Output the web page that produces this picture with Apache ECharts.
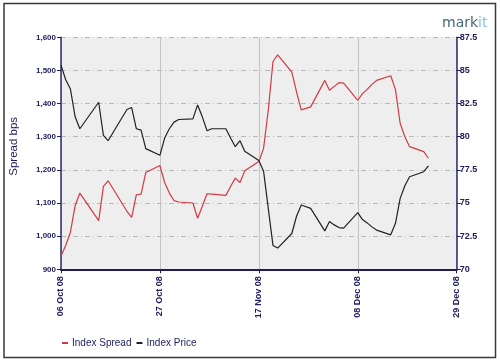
<!DOCTYPE html>
<html>
<head>
<meta charset="utf-8">
<script src="https://cdn.jsdelivr.net/npm/echarts@6/dist/echarts.min.js"></script>
<style>
html,body{margin:0;padding:0;background:#fff;}
#chart{width:500px;height:361px;}
</style>
</head>
<body>
<div id="chart"></div>
<script>
// ---- data ----
var dates = [
 '2008-10-06','2008-10-07','2008-10-08','2008-10-09','2008-10-10',
 '2008-10-14','2008-10-15','2008-10-16','2008-10-20','2008-10-21',
 '2008-10-22','2008-10-23','2008-10-24','2008-10-27','2008-10-28',
 '2008-10-29','2008-10-30','2008-10-31','2008-11-03','2008-11-04',
 '2008-11-05','2008-11-06','2008-11-07','2008-11-10','2008-11-11',
 '2008-11-12','2008-11-13','2008-11-14','2008-11-17','2008-11-18',
 '2008-11-19','2008-11-20','2008-11-21','2008-11-24','2008-11-25',
 '2008-11-26','2008-11-28','2008-12-01','2008-12-02','2008-12-03',
 '2008-12-04','2008-12-05','2008-12-08','2008-12-09','2008-12-10',
 '2008-12-11','2008-12-12','2008-12-15','2008-12-16','2008-12-17',
 '2008-12-18','2008-12-19','2008-12-22','2008-12-23'
];
var indexSpread = [
 940, 972, 1012, 1092, 1130,
 1047, 1150, 1167, 1075, 1057,
 1125, 1127, 1192, 1213, 1162,
 1130, 1107, 1103, 1100, 1054,
 1090, 1128, 1127, 1123, 1150,
 1175, 1162, 1197, 1225, 1265,
 1380, 1527, 1547, 1495, 1435,
 1381, 1390, 1470, 1440, 1452,
 1463, 1462, 1410, 1430, 1443,
 1458, 1470, 1484, 1442, 1340,
 1300, 1270, 1255, 1235
];
var indexPrice = [
 85.4, 84.3, 83.6, 81.5, 80.6,
 82.6, 80.1, 79.7, 82.05, 82.2,
 80.6, 80.5, 79.1, 78.6, 79.9,
 80.6, 81.1, 81.3, 81.35, 82.4,
 81.5, 80.45, 80.6, 80.6, 79.9,
 79.25, 79.7, 78.9, 78.2, 77.4,
 74.6, 71.8, 71.6, 72.7, 74.0,
 74.85, 74.6, 72.9, 73.6, 73.35,
 73.15, 73.1, 74.27, 73.75, 73.5,
 73.2, 72.96, 72.6, 73.47, 75.35,
 76.3, 76.98, 77.36, 77.8
];
var xTickLabels = ['06 Oct 08','27 Oct 08','17 Nov 08','08 Dec 08','29 Dec 08'];
var leftTicks = ['900','1,000','1,100','1,200','1,300','1,400','1,500','1,600'];
var rightTicks = ['70','72.5','75','77.5','80','82.5','85','87.5'];
var seriesNames = ['Index Spread','Index Price'];

// ---- build ----
var DAY = 86400000;
var t0 = Date.UTC(2008, 9, 6);
function dayOf(s){ var p = s.split('-'); return Math.round((Date.UTC(+p[0], +p[1]-1, +p[2]) - t0) / DAY); }
var spreadData = dates.map(function(d,i){ return [dayOf(d), indexSpread[i]]; });
var priceData = dates.map(function(d,i){ return [dayOf(d), indexPrice[i]]; });

var navy = '#1c1c5e';
var font = "'Liberation Sans', Arial, sans-serif";

var chart = echarts.init(document.getElementById('chart'), null, {renderer:'canvas'});
chart.setOption({
  animation: false,
  backgroundColor: '#ffffff',
  graphic: [
    {type:'rect', shape:{x:4, y:3.5, width:491.5, height:354}, style:{fill:'none', stroke:'#3a3a3a', lineWidth:1.5}, z:100},
    {type:'text', left:442, top:16, style:{
      text:'{a|mark}{b|it}',
      rich:{
        a:{fill:'#44687a', font:"14px 'DejaVu Sans', Verdana, sans-serif"},
        b:{fill:'#8cc3d9', font:"14px 'DejaVu Sans', Verdana, sans-serif"}
      }
    }}
  ],
  grid: {left:54.5, right:43.3, top:37.3, bottom:91.7, show:true, backgroundColor:'#eeeeee', borderWidth:0},
  legend: {
    left: 57, top: 333,
    icon: 'rect', itemWidth: 6, itemHeight: 2, itemGap: 5,
    textStyle: {color: navy, fontSize: 10, fontFamily: font, padding:[0,0,0,-1]},
    data: seriesNames
  },
  xAxis: {
    type: 'value', min: 0, max: 84, interval: 21,
    axisLine: {show:true, lineStyle:{color:navy, width:2}},
    axisTick: {show:true, length:4, lineStyle:{color:navy, width:1}},
    axisLabel: {
      rotate: 90, margin: 7, color: navy, fontSize: 9, fontWeight:'bold', fontFamily: font,
      formatter: function(v){ return xTickLabels[Math.round(v/21)]; }
    },
    splitLine: {show:true, lineStyle:{color:'#c4c4c4', width:1, type:'solid'}}
  },
  yAxis: [
    {
      type: 'value', min: 900, max: 1600, interval: 100, position:'left',
      name: 'Spread bps', nameLocation: 'middle', nameRotate: 90, nameGap: 41,
      nameTextStyle: {color: navy, fontSize: 11.5, fontFamily: font, padding:[0,0,0,14]},
      axisLine: {show:true, lineStyle:{color:'#2e2e6e', width:1.5}},
      axisTick: {show:true, length:4, lineStyle:{color:navy}},
      axisLabel: {color: navy, fontSize: 8, fontWeight:'bold', fontFamily: font, margin: 5,
        formatter: function(v){ return leftTicks[Math.round((v-900)/100)]; }},
      splitLine: {show:true, lineStyle:{color:'#b8b8b8', width:1, type:[5,3,1,3]}}
    },
    {
      type: 'value', min: 70, max: 87.5, interval: 2.5, position:'right',
      axisLine: {show:true, lineStyle:{color:'#2e2e6e', width:1.5}},
      axisTick: {show:true, length:4, lineStyle:{color:navy}},
      axisLabel: {color: navy, fontSize: 9, fontWeight:'bold', fontFamily: font, margin: 3,
        formatter: function(v){ return rightTicks[Math.round((v-70)/2.5)]; }},
      splitLine: {show:false}
    }
  ],
  series: [
    {name: seriesNames[0], type:'line', yAxisIndex:0, data: spreadData, showSymbol:false, symbol:'none',
     lineStyle:{color:'#d23a44', width:1.2}, itemStyle:{color:'#d23a44'}},
    {name: seriesNames[1], type:'line', yAxisIndex:1, data: priceData, showSymbol:false, symbol:'none',
     lineStyle:{color:'#222222', width:1.2}, itemStyle:{color:'#222222'}}
  ]
});
</script>
</body>
</html>
